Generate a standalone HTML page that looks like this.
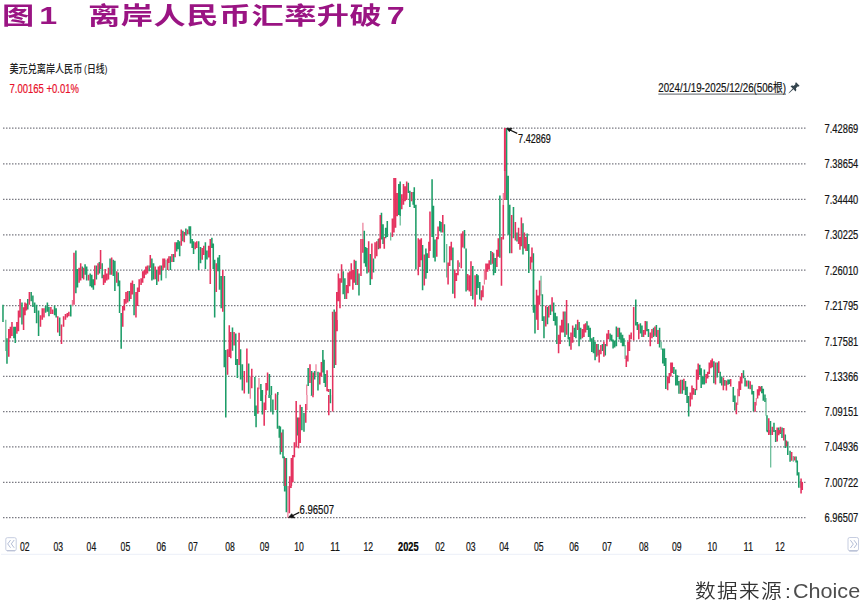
<!DOCTYPE html>
<html lang="zh-CN"><head><meta charset="utf-8"><title>图1 离岸人民币汇率升破7</title>
<style>
html,body{margin:0;padding:0;background:#fff}
body{width:865px;height:606px;position:relative;overflow:hidden;font-family:"Liberation Sans","Noto Sans CJK SC",sans-serif}
.title{position:absolute;left:2px;top:-4.4px;margin:0;font-family:"Liberation Sans","Noto Sans CJK SC",sans-serif;font-weight:bold;font-size:24.2px;line-height:40px;color:#9a1483;white-space:pre;transform-origin:0 0;transform:scaleX(1.331)}
.title .n{margin-left:3.8px}
.title .t{margin-left:23.25px;letter-spacing:0.36px}
.title .s{margin-left:3.5px}
.src{position:absolute;left:0;top:0;margin:0;font-family:"Liberation Sans","Noto Sans CJK SC",sans-serif;color:#333;white-space:pre}
.src span{position:absolute;top:577px;line-height:30px;transform-origin:0 50%;display:block}
.src .c{left:694.6px;font-size:18.8px;font-weight:350;letter-spacing:1.2px;transform:scaleX(1.1)}
.src .k{left:785px;font-size:19px;font-weight:400;transform:scaleX(1.1)}
.src .l{left:793.2px;top:576.3px;font-size:19.4px;letter-spacing:0;transform:scaleX(1.112);color:#4d4d4d}
</style></head><body>
<svg width="865" height="606" viewBox="0 0 865 606" style="position:absolute;left:0;top:0">
<g stroke="#7a7a82" stroke-width="1.3" stroke-dasharray="1.5 1.5" fill="none"><line x1="3" y1="128.2" x2="805.5" y2="128.2"/><line x1="3" y1="163.8" x2="805.5" y2="163.8"/><line x1="3" y1="199.3" x2="805.5" y2="199.3"/><line x1="3" y1="234.8" x2="805.5" y2="234.8"/><line x1="3" y1="270.2" x2="805.5" y2="270.2"/><line x1="3" y1="305.6" x2="805.5" y2="305.6"/><line x1="3" y1="341.0" x2="805.5" y2="341.0"/><line x1="3" y1="376.3" x2="805.5" y2="376.3"/><line x1="3" y1="411.6" x2="805.5" y2="411.6"/><line x1="3" y1="446.9" x2="805.5" y2="446.9"/><line x1="3" y1="482.3" x2="805.5" y2="482.3"/><line x1="3" y1="517.6" x2="805.5" y2="517.6"/></g>
<line x1="1" y1="554.3" x2="859" y2="554.3" stroke="#eff2f9" stroke-width="1.2"/>
<defs><filter id="soft" x="0" y="0" width="865" height="606" filterUnits="userSpaceOnUse"><feGaussianBlur stdDeviation="0.35"/></filter></defs>
<g filter="url(#soft)">
<path fill="#62ba93" d="M5.2 319.8h1.20v31.2h-1.20zM165.4 259.7h1.20v18.5h-1.20zM390.1 232.4h1.20v8.1h-1.20zM399.6 216.2h1.20v9.2h-1.20zM446.1 244.0h1.20v33.5h-1.20zM458.8 262.5h1.20v4.6h-1.20zM540.4 275.8h1.20v19.7h-1.20zM624.5 345.1h1.20v13.9h-1.20zM660.6 341.7h1.20v8.1h-1.20zM765.4 397.9h1.20v17.9h-1.20zM774.9 430.9h1.20v4.2h-1.20zM770.1 433.5h1.20v34.1h-1.20zM792.7 456.0h1.20v5.8h-1.20zM799.7 480.9h1.20v6.9h-1.20z"/>
<path fill="#ec7c97" d="M71.8 300.1h1.20v5.8h-1.20zM362.3 222.7h1.20v16.2h-1.20zM249.7 377.1h1.20v17.9h-1.20zM258.4 377.9h1.20v11.3h-1.20zM306.1 384.6h1.20v10.4h-1.20zM315.4 364.3h1.20v11.3h-1.20zM249.7 395.0h1.20v3.8h-1.20zM306.4 395.0h1.20v15.0h-1.20zM287.3 486.0h1.20v31.9h-1.20zM483.8 269.4h1.20v15.0h-1.20zM502.7 193.1h1.20v11.6h-1.20zM737.1 388.7h1.20v16.2h-1.20zM755.7 397.9h1.20v7.5h-1.20z"/>
<path fill="#1f9d68" d="M2.2 304.8h1.55v17.3h-1.55zM6.2 338.3h1.55v25.4h-1.55zM13.1 326.7h1.55v11.6h-1.55zM14.5 326.7h1.55v16.2h-1.55zM21.2 302.5h1.55v22.0h-1.55zM27.0 299.0h1.55v10.4h-1.55zM30.4 292.1h1.55v9.2h-1.55zM32.1 295.5h1.55v11.6h-1.55zM33.9 302.5h1.55v10.4h-1.55zM35.8 304.8h1.55v18.5h-1.55zM37.8 310.5h1.55v25.4h-1.55zM44.8 305.9h1.55v6.9h-1.55zM46.6 302.5h1.55v9.2h-1.55zM48.2 307.1h1.55v9.2h-1.55zM53.8 305.5h1.55v9.7h-1.55zM55.4 308.2h1.55v9.2h-1.55zM58.9 317.5h1.55v18.5h-1.55zM70.0 304.8h1.55v11.6h-1.55zM75.1 250.4h1.55v42.8h-1.55zM76.7 268.9h1.55v18.5h-1.55zM81.5 266.6h1.55v11.6h-1.55zM84.3 264.3h1.55v10.4h-1.55zM85.9 266.6h1.55v13.9h-1.55zM89.4 273.6h1.55v12.7h-1.55zM91.0 274.7h1.55v12.7h-1.55zM92.6 279.3h1.55v10.4h-1.55zM95.6 265.5h1.55v13.9h-1.55zM98.6 262.0h1.55v11.6h-1.55zM101.4 263.2h1.55v15.0h-1.55zM109.3 258.5h1.55v16.2h-1.55zM112.5 259.7h1.55v16.2h-1.55zM114.1 260.8h1.55v30.1h-1.55zM117.4 272.4h1.55v13.9h-1.55zM118.8 280.5h1.55v32.4h-1.55zM120.4 312.9h1.55v35.8h-1.55zM128.5 290.9h1.55v10.4h-1.55zM133.3 284.0h1.55v31.2h-1.55zM148.4 265.5h1.55v5.8h-1.55zM151.1 258.5h1.55v22.0h-1.55zM152.8 263.2h1.55v16.2h-1.55zM156.0 270.1h1.55v15.0h-1.55zM160.6 265.5h1.55v15.0h-1.55zM169.6 256.2h1.55v13.9h-1.55zM172.9 253.9h1.55v8.1h-1.55zM175.9 242.3h1.55v9.2h-1.55zM177.3 240.0h1.55v9.2h-1.55zM178.9 241.2h1.55v15.0h-1.55zM182.1 230.8h1.55v10.4h-1.55zM185.1 228.5h1.55v6.9h-1.55zM188.4 226.2h1.55v8.1h-1.55zM189.7 226.2h1.55v17.3h-1.55zM191.4 238.9h1.55v9.2h-1.55zM192.8 241.2h1.55v12.7h-1.55zM197.9 241.2h1.55v28.9h-1.55zM199.8 247.0h1.55v16.2h-1.55zM204.6 242.3h1.55v26.6h-1.55zM206.2 250.4h1.55v9.2h-1.55zM211.1 237.7h1.55v10.4h-1.55zM212.5 243.5h1.55v25.4h-1.55zM213.9 259.7h1.55v57.8h-1.55zM217.1 257.4h1.55v13.9h-1.55zM218.7 255.1h1.55v34.7h-1.55zM220.4 275.9h1.55v32.4h-1.55zM223.6 275.9h1.55v44.2h-1.55zM333.4 309.4h1.55v10.6h-1.55zM342.4 271.2h1.55v23.1h-1.55zM344.1 278.2h1.55v20.8h-1.55zM355.1 260.8h1.55v24.3h-1.55zM358.2 273.6h1.55v22.0h-1.55zM363.5 230.8h1.55v32.4h-1.55zM364.9 247.0h1.55v19.7h-1.55zM366.2 248.1h1.55v25.4h-1.55zM369.5 253.9h1.55v31.2h-1.55zM372.7 258.5h1.55v13.9h-1.55zM377.6 238.9h1.55v10.4h-1.55zM223.5 320.0h1.55v47.3h-1.55zM225.0 350.1h1.55v44.9h-1.55zM231.7 327.5h1.55v23.3h-1.55zM235.0 333.5h1.55v31.6h-1.55zM236.6 359.1h1.55v18.8h-1.55zM239.8 349.3h1.55v30.1h-1.55zM241.6 364.3h1.55v26.3h-1.55zM247.9 363.6h1.55v30.1h-1.55zM254.1 377.1h1.55v17.9h-1.55zM260.1 383.9h1.55v11.1h-1.55zM261.6 389.9h1.55v5.1h-1.55zM268.6 374.1h1.55v20.9h-1.55zM270.6 386.1h1.55v8.9h-1.55zM277.0 392.1h1.55v2.9h-1.55zM307.4 368.1h1.55v18.0h-1.55zM310.9 371.1h1.55v23.9h-1.55zM313.9 371.1h1.55v8.3h-1.55zM317.2 371.8h1.55v18.8h-1.55zM322.1 350.1h1.55v22.5h-1.55zM323.3 359.8h1.55v23.3h-1.55zM324.7 374.1h1.55v12.8h-1.55zM329.5 389.1h1.55v5.9h-1.55zM333.4 320.0h1.55v48.1h-1.55zM225.0 395.0h1.55v22.5h-1.55zM254.1 395.0h1.55v21.0h-1.55zM255.3 405.5h1.55v21.8h-1.55zM260.1 395.0h1.55v6.0h-1.55zM261.6 395.0h1.55v19.5h-1.55zM268.3 395.0h1.55v3.0h-1.55zM270.1 395.0h1.55v16.5h-1.55zM272.1 399.5h1.55v15.0h-1.55zM276.7 395.0h1.55v33.8h-1.55zM278.5 425.8h1.55v12.0h-1.55zM279.6 426.6h1.55v27.8h-1.55zM282.2 429.6h1.55v28.6h-1.55zM283.4 456.6h1.55v29.4h-1.55zM285.6 458.1h1.55v27.9h-1.55zM296.6 417.5h1.55v18.0h-1.55zM301.1 407.0h1.55v23.3h-1.55zM303.2 413.0h1.55v18.8h-1.55zM310.7 395.0h1.55v0.8h-1.55zM329.6 395.0h1.55v8.3h-1.55zM283.9 486.0h1.55v5.4h-1.55zM285.6 486.0h1.55v26.2h-1.55zM380.7 212.8h1.55v26.6h-1.55zM382.3 224.3h1.55v19.7h-1.55zM384.9 227.8h1.55v10.4h-1.55zM386.5 220.9h1.55v16.2h-1.55zM398.0 183.9h1.55v31.2h-1.55zM399.4 181.6h1.55v34.7h-1.55zM407.5 182.7h1.55v10.4h-1.55zM409.1 190.8h1.55v16.2h-1.55zM412.4 192.0h1.55v12.7h-1.55zM413.5 187.3h1.55v20.8h-1.55zM415.1 204.7h1.55v64.7h-1.55zM421.8 245.1h1.55v45.1h-1.55zM425.1 248.6h1.55v30.1h-1.55zM426.5 253.2h1.55v19.7h-1.55zM431.3 179.2h1.55v57.8h-1.55zM432.7 205.8h1.55v52.0h-1.55zM434.3 239.4h1.55v22.0h-1.55zM439.0 220.9h1.55v10.4h-1.55zM440.3 222.0h1.55v10.4h-1.55zM443.6 224.3h1.55v38.2h-1.55zM452.1 247.5h1.55v46.2h-1.55zM463.7 230.1h1.55v18.5h-1.55zM465.3 248.6h1.55v42.8h-1.55zM472.0 266.0h1.55v33.5h-1.55zM476.0 274.0h1.55v20.8h-1.55zM477.3 275.2h1.55v12.7h-1.55zM479.0 282.1h1.55v17.3h-1.55zM490.1 250.9h1.55v13.9h-1.55zM492.8 253.2h1.55v22.0h-1.55zM494.5 257.9h1.55v15.0h-1.55zM499.1 195.4h1.55v62.4h-1.55zM505.8 128.4h1.55v71.7h-1.55zM507.4 175.8h1.55v59.0h-1.55zM509.0 204.7h1.55v48.6h-1.55zM512.7 207.0h1.55v31.2h-1.55zM516.2 232.4h1.55v9.2h-1.55zM522.2 223.2h1.55v31.2h-1.55zM526.4 233.6h1.55v17.3h-1.55zM528.0 244.0h1.55v28.9h-1.55zM532.6 253.2h1.55v56.9h-1.55zM532.8 270.0h1.55v42.8h-1.55zM534.2 304.7h1.55v28.9h-1.55zM541.6 294.3h1.55v26.6h-1.55zM543.2 316.2h1.55v22.0h-1.55zM546.7 307.0h1.55v17.3h-1.55zM549.7 304.7h1.55v10.4h-1.55zM552.9 302.4h1.55v18.5h-1.55zM554.5 312.8h1.55v12.7h-1.55zM556.1 316.2h1.55v27.7h-1.55zM564.2 311.6h1.55v25.4h-1.55zM567.5 323.2h1.55v16.2h-1.55zM568.8 337.1h1.55v9.2h-1.55zM573.5 327.8h1.55v9.2h-1.55zM575.1 324.3h1.55v13.9h-1.55zM578.3 322.0h1.55v24.3h-1.55zM579.9 327.8h1.55v11.6h-1.55zM586.2 321.3h1.55v8.8h-1.55zM587.8 325.5h1.55v11.6h-1.55zM589.4 327.8h1.55v13.9h-1.55zM591.0 338.2h1.55v13.9h-1.55zM592.7 337.1h1.55v16.2h-1.55zM594.3 341.7h1.55v18.5h-1.55zM597.3 344.0h1.55v11.6h-1.55zM601.7 344.0h1.55v6.9h-1.55zM604.5 344.0h1.55v11.6h-1.55zM609.3 333.6h1.55v6.9h-1.55zM610.9 334.7h1.55v6.9h-1.55zM612.3 339.4h1.55v9.2h-1.55zM613.9 340.5h1.55v6.9h-1.55zM615.6 326.6h1.55v19.7h-1.55zM618.6 327.8h1.55v11.6h-1.55zM620.2 332.4h1.55v10.4h-1.55zM621.8 334.7h1.55v11.6h-1.55zM623.2 338.2h1.55v8.1h-1.55zM635.0 299.4h1.55v26.1h-1.55zM636.6 322.0h1.55v8.1h-1.55zM639.6 323.2h1.55v10.4h-1.55zM641.2 325.5h1.55v11.6h-1.55zM646.1 321.3h1.55v9.9h-1.55zM647.7 329.0h1.55v8.1h-1.55zM652.8 327.8h1.55v9.2h-1.55zM655.6 325.0h1.55v12.0h-1.55zM658.8 327.8h1.55v19.7h-1.55zM662.0 348.6h1.55v15.0h-1.55zM663.6 348.6h1.55v17.3h-1.55zM665.0 357.9h1.55v31.2h-1.55zM673.1 367.1h1.55v6.9h-1.55zM675.0 369.4h1.55v16.2h-1.55zM676.6 375.2h1.55v10.4h-1.55zM678.2 381.0h1.55v12.7h-1.55zM681.5 379.8h1.55v13.9h-1.55zM684.7 381.0h1.55v13.9h-1.55zM686.3 386.8h1.55v16.2h-1.55zM687.9 396.0h1.55v20.6h-1.55zM694.4 389.1h1.55v5.8h-1.55zM699.0 364.8h1.55v10.4h-1.55zM700.4 368.3h1.55v19.7h-1.55zM702.0 376.4h1.55v8.1h-1.55zM703.6 369.4h1.55v15.0h-1.55zM713.1 361.3h1.55v22.0h-1.55zM716.4 362.5h1.55v15.0h-1.55zM719.4 371.7h1.55v11.6h-1.55zM721.0 376.4h1.55v9.2h-1.55zM724.1 380.0h1.55v5.8h-1.55zM727.2 379.5h1.55v5.2h-1.55zM728.6 379.5h1.55v4.6h-1.55zM732.5 387.0h1.55v15.0h-1.55zM734.1 395.6h1.55v15.0h-1.55zM742.7 370.2h1.55v8.1h-1.55zM744.3 377.7h1.55v8.7h-1.55zM747.8 380.6h1.55v8.1h-1.55zM751.2 384.7h1.55v9.8h-1.55zM752.7 391.0h1.55v20.2h-1.55zM761.0 386.0h1.55v7.3h-1.55zM762.5 388.7h1.55v12.1h-1.55zM764.2 394.5h1.55v7.5h-1.55zM766.2 415.3h1.55v16.2h-1.55zM769.7 421.1h1.55v14.0h-1.55zM773.2 422.8h1.55v9.2h-1.55zM778.0 427.4h1.55v5.8h-1.55zM781.3 427.4h1.55v4.0h-1.55zM766.8 430.0h1.55v2.3h-1.55zM769.9 430.0h1.55v3.5h-1.55zM773.1 430.0h1.55v1.7h-1.55zM774.9 430.0h1.55v12.1h-1.55zM779.5 430.0h1.55v4.0h-1.55zM781.2 430.0h1.55v8.1h-1.55zM784.5 434.6h1.55v13.3h-1.55zM787.0 441.6h1.55v13.3h-1.55zM789.3 450.8h1.55v11.0h-1.55zM795.3 456.6h1.55v5.8h-1.55zM796.5 460.6h1.55v15.0h-1.55zM798.0 472.2h1.55v15.6h-1.55zM505.9 128.4h1.2v43h-1.2z"/>
<path fill="#e5315e" d="M8.0 329.0h1.55v27.7h-1.55zM9.6 326.7h1.55v11.6h-1.55zM11.2 322.1h1.55v13.9h-1.55zM16.1 322.1h1.55v11.6h-1.55zM17.7 310.5h1.55v20.8h-1.55zM19.3 299.0h1.55v18.5h-1.55zM22.8 307.3h1.55v22.7h-1.55zM24.2 302.5h1.55v12.7h-1.55zM25.6 303.6h1.55v6.9h-1.55zM28.6 292.1h1.55v12.7h-1.55zM39.7 315.2h1.55v11.6h-1.55zM41.5 308.2h1.55v11.6h-1.55zM43.2 308.2h1.55v9.2h-1.55zM50.1 307.1h1.55v6.9h-1.55zM51.9 309.4h1.55v4.6h-1.55zM57.0 316.3h1.55v16.2h-1.55zM60.7 324.4h1.55v19.7h-1.55zM62.8 316.3h1.55v10.4h-1.55zM64.7 314.0h1.55v5.8h-1.55zM66.5 312.9h1.55v4.6h-1.55zM68.1 311.7h1.55v4.6h-1.55zM73.2 252.7h1.55v52.0h-1.55zM78.3 267.8h1.55v15.0h-1.55zM79.9 263.2h1.55v17.3h-1.55zM82.9 267.8h1.55v11.6h-1.55zM87.8 274.7h1.55v5.8h-1.55zM94.0 265.5h1.55v19.7h-1.55zM97.3 263.2h1.55v11.6h-1.55zM99.8 250.0h1.55v19.0h-1.55zM102.8 274.7h1.55v10.4h-1.55zM104.4 268.9h1.55v13.9h-1.55zM106.0 273.6h1.55v6.9h-1.55zM107.7 267.8h1.55v11.6h-1.55zM110.9 257.4h1.55v17.3h-1.55zM116.0 271.2h1.55v11.6h-1.55zM122.0 305.9h1.55v20.8h-1.55zM123.6 299.0h1.55v11.6h-1.55zM125.2 292.1h1.55v11.6h-1.55zM126.9 290.9h1.55v11.6h-1.55zM130.1 282.8h1.55v16.2h-1.55zM131.7 280.5h1.55v13.9h-1.55zM135.2 292.1h1.55v25.4h-1.55zM136.8 287.4h1.55v18.5h-1.55zM138.4 279.3h1.55v12.7h-1.55zM140.3 278.2h1.55v6.9h-1.55zM141.9 271.2h1.55v11.6h-1.55zM143.5 270.1h1.55v8.1h-1.55zM145.1 266.6h1.55v8.1h-1.55zM146.7 265.5h1.55v8.1h-1.55zM149.5 255.1h1.55v12.7h-1.55zM154.4 266.6h1.55v12.7h-1.55zM157.6 266.6h1.55v15.0h-1.55zM159.2 265.5h1.55v9.2h-1.55zM162.2 258.5h1.55v11.6h-1.55zM163.8 258.5h1.55v9.2h-1.55zM166.9 258.5h1.55v11.6h-1.55zM168.2 256.2h1.55v6.9h-1.55zM171.2 253.9h1.55v8.1h-1.55zM174.3 242.3h1.55v15.0h-1.55zM180.5 229.6h1.55v16.2h-1.55zM183.5 231.9h1.55v10.4h-1.55zM186.7 229.6h1.55v4.6h-1.55zM194.4 242.3h1.55v6.9h-1.55zM196.0 241.2h1.55v6.9h-1.55zM201.4 248.1h1.55v11.6h-1.55zM203.0 245.8h1.55v9.2h-1.55zM207.9 245.8h1.55v11.6h-1.55zM209.5 238.9h1.55v45.1h-1.55zM215.5 263.2h1.55v28.9h-1.55zM222.0 270.1h1.55v41.6h-1.55zM331.8 311.7h1.55v8.3h-1.55zM334.8 311.7h1.55v8.3h-1.55zM336.0 292.1h1.55v28.0h-1.55zM337.6 273.6h1.55v27.7h-1.55zM339.2 278.2h1.55v30.1h-1.55zM340.8 264.3h1.55v18.5h-1.55zM345.7 285.1h1.55v13.9h-1.55zM347.3 272.4h1.55v20.8h-1.55zM348.9 271.2h1.55v15.0h-1.55zM350.5 263.2h1.55v16.2h-1.55zM352.1 270.1h1.55v19.7h-1.55zM353.5 259.7h1.55v23.1h-1.55zM356.8 268.9h1.55v16.2h-1.55zM360.2 238.9h1.55v37.0h-1.55zM362.1 238.9h1.55v13.9h-1.55zM367.9 241.2h1.55v31.2h-1.55zM371.1 243.5h1.55v35.8h-1.55zM374.3 242.3h1.55v16.2h-1.55zM376.0 241.2h1.55v15.0h-1.55zM226.8 349.3h1.55v25.5h-1.55zM228.5 325.3h1.55v31.6h-1.55zM230.0 332.0h1.55v26.3h-1.55zM233.3 332.0h1.55v13.5h-1.55zM238.3 332.8h1.55v32.3h-1.55zM243.5 371.1h1.55v22.5h-1.55zM246.1 348.6h1.55v33.8h-1.55zM251.0 368.8h1.55v19.5h-1.55zM257.1 387.6h1.55v7.4h-1.55zM265.3 383.1h1.55v11.9h-1.55zM266.8 372.6h1.55v18.0h-1.55zM274.8 393.6h1.55v1.4h-1.55zM309.2 364.3h1.55v18.8h-1.55zM312.4 372.6h1.55v22.4h-1.55zM319.0 372.6h1.55v12.0h-1.55zM320.6 362.1h1.55v14.3h-1.55zM326.3 370.3h1.55v21.0h-1.55zM327.8 389.1h1.55v3.0h-1.55zM331.9 320.0h1.55v75.0h-1.55zM334.9 320.0h1.55v45.1h-1.55zM336.3 320.0h1.55v11.3h-1.55zM257.1 395.0h1.55v18.8h-1.55zM263.4 402.5h1.55v23.3h-1.55zM264.9 395.0h1.55v15.0h-1.55zM274.8 395.0h1.55v15.0h-1.55zM280.8 432.6h1.55v19.5h-1.55zM284.4 458.1h1.55v27.9h-1.55zM288.9 476.2h1.55v9.8h-1.55zM290.6 458.1h1.55v27.9h-1.55zM292.1 455.1h1.55v27.1h-1.55zM293.6 442.3h1.55v15.0h-1.55zM295.4 401.0h1.55v46.6h-1.55zM297.8 417.5h1.55v30.8h-1.55zM299.4 404.8h1.55v38.3h-1.55zM305.0 404.0h1.55v18.8h-1.55zM312.2 395.0h1.55v2.3h-1.55zM328.0 395.0h1.55v20.3h-1.55zM331.9 395.0h1.55v16.5h-1.55zM288.6 486.0h1.55v27.3h-1.55zM290.2 486.0h1.55v1.9h-1.55zM378.4 238.2h1.55v10.4h-1.55zM379.5 215.1h1.55v33.5h-1.55zM383.5 237.1h1.55v11.6h-1.55zM391.6 218.6h1.55v18.5h-1.55zM393.2 178.1h1.55v54.3h-1.55zM394.8 178.1h1.55v49.7h-1.55zM396.4 193.1h1.55v23.1h-1.55zM401.0 194.3h1.55v15.0h-1.55zM402.7 183.9h1.55v20.8h-1.55zM404.3 186.2h1.55v15.0h-1.55zM405.9 181.6h1.55v18.5h-1.55zM410.8 192.0h1.55v9.2h-1.55zM417.5 238.2h1.55v37.0h-1.55zM419.1 239.4h1.55v27.7h-1.55zM420.5 238.2h1.55v22.0h-1.55zM423.5 254.4h1.55v31.2h-1.55zM428.1 241.7h1.55v16.2h-1.55zM429.2 211.6h1.55v39.3h-1.55zM436.0 237.1h1.55v19.7h-1.55zM437.3 226.6h1.55v12.7h-1.55zM442.0 215.1h1.55v17.3h-1.55zM447.3 262.5h1.55v22.0h-1.55zM448.9 246.3h1.55v19.7h-1.55zM450.5 241.7h1.55v18.5h-1.55zM454.0 269.4h1.55v28.9h-1.55zM455.6 272.9h1.55v8.1h-1.55zM457.2 260.2h1.55v15.0h-1.55zM460.5 233.6h1.55v34.7h-1.55zM462.1 231.3h1.55v16.2h-1.55zM466.9 274.0h1.55v16.2h-1.55zM468.6 275.2h1.55v16.2h-1.55zM470.2 261.3h1.55v34.7h-1.55zM474.3 275.2h1.55v31.2h-1.55zM480.6 290.2h1.55v10.4h-1.55zM482.2 285.6h1.55v11.6h-1.55zM485.2 263.6h1.55v16.2h-1.55zM486.8 263.6h1.55v8.1h-1.55zM488.4 260.2h1.55v9.2h-1.55zM491.7 252.1h1.55v11.6h-1.55zM496.1 249.8h1.55v17.3h-1.55zM497.5 238.2h1.55v18.5h-1.55zM500.7 237.1h1.55v48.6h-1.55zM502.5 204.7h1.55v34.7h-1.55zM504.2 128.4h1.55v71.7h-1.55zM510.9 215.1h1.55v38.2h-1.55zM514.6 222.0h1.55v18.5h-1.55zM517.8 227.8h1.55v16.2h-1.55zM519.2 237.1h1.55v12.7h-1.55zM520.6 217.4h1.55v28.9h-1.55zM523.6 232.4h1.55v16.2h-1.55zM525.2 237.1h1.55v13.9h-1.55zM529.8 256.7h1.55v12.7h-1.55zM531.2 247.5h1.55v15.0h-1.55zM535.8 289.7h1.55v30.1h-1.55zM537.2 295.4h1.55v34.7h-1.55zM538.8 280.4h1.55v24.3h-1.55zM545.0 305.8h1.55v20.8h-1.55zM548.0 305.8h1.55v11.6h-1.55zM551.3 297.3h1.55v14.3h-1.55zM557.8 334.7h1.55v18.5h-1.55zM559.4 325.5h1.55v18.5h-1.55zM561.0 319.7h1.55v12.7h-1.55zM562.6 311.6h1.55v20.8h-1.55zM565.8 300.1h1.55v34.7h-1.55zM570.2 332.4h1.55v17.3h-1.55zM571.9 325.5h1.55v17.3h-1.55zM576.9 319.7h1.55v10.4h-1.55zM581.6 329.0h1.55v9.2h-1.55zM583.2 324.3h1.55v12.7h-1.55zM584.8 323.2h1.55v9.2h-1.55zM595.9 344.0h1.55v12.7h-1.55zM598.4 349.8h1.55v12.7h-1.55zM600.1 345.1h1.55v9.2h-1.55zM603.1 341.7h1.55v15.0h-1.55zM606.1 333.6h1.55v12.7h-1.55zM607.7 330.1h1.55v9.2h-1.55zM617.2 327.8h1.55v9.2h-1.55zM625.5 355.5h1.55v11.6h-1.55zM627.1 341.7h1.55v19.7h-1.55zM628.7 334.7h1.55v16.2h-1.55zM630.4 332.4h1.55v6.9h-1.55zM632.9 307.0h1.55v33.5h-1.55zM638.0 324.3h1.55v15.0h-1.55zM642.8 330.1h1.55v6.9h-1.55zM644.5 320.9h1.55v13.9h-1.55zM649.5 332.4h1.55v13.9h-1.55zM651.2 329.0h1.55v9.2h-1.55zM654.2 326.6h1.55v9.2h-1.55zM657.2 330.1h1.55v13.9h-1.55zM666.9 376.4h1.55v13.9h-1.55zM668.5 372.9h1.55v10.4h-1.55zM670.1 362.5h1.55v13.9h-1.55zM671.5 362.5h1.55v10.4h-1.55zM679.8 379.8h1.55v13.9h-1.55zM683.1 378.7h1.55v11.6h-1.55zM689.5 392.5h1.55v13.9h-1.55zM691.2 385.6h1.55v13.9h-1.55zM692.8 387.9h1.55v6.9h-1.55zM695.8 369.4h1.55v20.8h-1.55zM697.4 363.6h1.55v16.2h-1.55zM705.3 374.0h1.55v9.2h-1.55zM706.9 371.7h1.55v6.9h-1.55zM708.5 362.5h1.55v11.6h-1.55zM710.1 360.2h1.55v8.1h-1.55zM711.5 358.6h1.55v8.6h-1.55zM714.7 362.5h1.55v22.0h-1.55zM718.0 361.3h1.55v11.6h-1.55zM722.6 377.5h1.55v12.7h-1.55zM725.6 380.6h1.55v9.8h-1.55zM729.9 378.9h1.55v7.5h-1.55zM735.6 402.6h1.55v11.6h-1.55zM738.3 381.2h1.55v15.0h-1.55zM739.7 376.6h1.55v13.3h-1.55zM741.0 373.1h1.55v10.4h-1.55zM746.0 380.6h1.55v5.8h-1.55zM749.4 381.2h1.55v8.1h-1.55zM754.3 402.0h1.55v9.8h-1.55zM756.8 389.3h1.55v9.2h-1.55zM758.3 386.0h1.55v9.6h-1.55zM759.7 386.4h1.55v5.2h-1.55zM768.0 418.2h1.55v16.9h-1.55zM771.5 426.8h1.55v8.2h-1.55zM776.4 427.4h1.55v7.6h-1.55zM779.7 426.8h1.55v6.4h-1.55zM783.0 428.0h1.55v7.1h-1.55zM768.3 430.0h1.55v3.5h-1.55zM771.6 430.0h1.55v3.5h-1.55zM776.4 430.0h1.55v11.6h-1.55zM778.0 430.0h1.55v5.2h-1.55zM783.0 430.0h1.55v10.4h-1.55zM785.6 440.4h1.55v5.8h-1.55zM790.9 452.0h1.55v8.7h-1.55zM793.9 456.6h1.55v4.0h-1.55zM800.3 478.6h1.55v15.0h-1.55zM801.5 482.0h1.55v8.1h-1.55zM503.9 128.1h2v43h-2z"/>
</g>
<g font-family="'Liberation Sans',sans-serif" font-size="12.5" fill="#151515" stroke="#151515" stroke-width="0.22"><text x="824.6" y="132.7" textLength="33.7" lengthAdjust="spacingAndGlyphs">7.42869</text><text x="824.6" y="168.3" textLength="33.7" lengthAdjust="spacingAndGlyphs">7.38654</text><text x="824.6" y="203.8" textLength="33.7" lengthAdjust="spacingAndGlyphs">7.34440</text><text x="824.6" y="239.3" textLength="33.7" lengthAdjust="spacingAndGlyphs">7.30225</text><text x="824.6" y="274.7" textLength="33.7" lengthAdjust="spacingAndGlyphs">7.26010</text><text x="824.6" y="310.1" textLength="33.7" lengthAdjust="spacingAndGlyphs">7.21795</text><text x="824.6" y="345.5" textLength="33.7" lengthAdjust="spacingAndGlyphs">7.17581</text><text x="824.6" y="380.8" textLength="33.7" lengthAdjust="spacingAndGlyphs">7.13366</text><text x="824.6" y="416.1" textLength="33.7" lengthAdjust="spacingAndGlyphs">7.09151</text><text x="824.6" y="451.4" textLength="33.7" lengthAdjust="spacingAndGlyphs">7.04936</text><text x="824.6" y="486.8" textLength="33.7" lengthAdjust="spacingAndGlyphs">7.00722</text><text x="824.6" y="522.1" textLength="33.7" lengthAdjust="spacingAndGlyphs">6.96507</text></g>
<g font-family="'Liberation Sans',sans-serif" font-size="12.5" fill="#151515" stroke="#151515" stroke-width="0.22"><text x="20.0" y="551.3" textLength="9.6" lengthAdjust="spacingAndGlyphs">02</text><text x="53.5" y="551.3" textLength="9.6" lengthAdjust="spacingAndGlyphs">03</text><text x="86.6" y="551.3" textLength="9.6" lengthAdjust="spacingAndGlyphs">04</text><text x="120.6" y="551.3" textLength="9.6" lengthAdjust="spacingAndGlyphs">05</text><text x="156.5" y="551.3" textLength="9.6" lengthAdjust="spacingAndGlyphs">06</text><text x="188.3" y="551.3" textLength="9.6" lengthAdjust="spacingAndGlyphs">07</text><text x="225.2" y="551.3" textLength="9.6" lengthAdjust="spacingAndGlyphs">08</text><text x="259.7" y="551.3" textLength="9.6" lengthAdjust="spacingAndGlyphs">09</text><text x="294.3" y="551.3" textLength="9.6" lengthAdjust="spacingAndGlyphs">10</text><text x="330.2" y="551.3" textLength="9.6" lengthAdjust="spacingAndGlyphs">11</text><text x="363.4" y="551.3" textLength="9.6" lengthAdjust="spacingAndGlyphs">12</text><text x="398.1" y="551.3" textLength="20.5" lengthAdjust="spacingAndGlyphs" font-weight="bold" fill="#000">2025</text><text x="435.2" y="551.3" textLength="9.6" lengthAdjust="spacingAndGlyphs">02</text><text x="465.9" y="551.3" textLength="9.6" lengthAdjust="spacingAndGlyphs">03</text><text x="499.2" y="551.3" textLength="9.6" lengthAdjust="spacingAndGlyphs">04</text><text x="534.0" y="551.3" textLength="9.6" lengthAdjust="spacingAndGlyphs">05</text><text x="569.2" y="551.3" textLength="9.6" lengthAdjust="spacingAndGlyphs">06</text><text x="602.2" y="551.3" textLength="9.6" lengthAdjust="spacingAndGlyphs">07</text><text x="639.0" y="551.3" textLength="9.6" lengthAdjust="spacingAndGlyphs">08</text><text x="671.9" y="551.3" textLength="9.6" lengthAdjust="spacingAndGlyphs">09</text><text x="707.4" y="551.3" textLength="9.6" lengthAdjust="spacingAndGlyphs">10</text><text x="743.5" y="551.3" textLength="9.6" lengthAdjust="spacingAndGlyphs">11</text><text x="775.3" y="551.3" textLength="9.6" lengthAdjust="spacingAndGlyphs">12</text></g>
<g fill="#fff" stroke="#c6cde0" stroke-width="1"><rect x="5.8" y="537.7" width="10.4" height="13" rx="1.5"/><rect x="848" y="537.5" width="10.5" height="13.3" rx="1.8"/></g>
<g stroke="#b4bcd2" stroke-width="1.1" fill="none"><path d="M7 550.8h8M849.2 550.9h8.1"/></g>
<g fill="none" stroke="#b3bdd6" stroke-width="1"><path d="M10.6 540l-2.9 3.9 2.9 3.9M14.2 540l-2.9 3.9 2.9 3.9"/><path d="M850.4 540.2l2.9 3.9-2.9 3.9M854 540.2l2.9 3.9-2.9 3.9"/></g>
<text y="72.8" font-family="'Liberation Sans','Noto Sans CJK SC',sans-serif" font-size="11.2" font-weight="500" fill="#222"><tspan x="9.5" textLength="72.8" lengthAdjust="spacingAndGlyphs">美元兑离岸人民币</tspan><tspan x="84" textLength="23.5" lengthAdjust="spacingAndGlyphs">(日线)</tspan></text>
<text x="9.6" y="92.6" font-family="'Liberation Sans',sans-serif" font-size="12.5" fill="#e8102a" stroke="#e8102a" stroke-width="0.2" textLength="69.3" lengthAdjust="spacingAndGlyphs">7.00165 +0.01%</text>
<text x="658.3" y="92.4" font-family="'Liberation Sans','Noto Sans CJK SC',sans-serif" font-size="12.5" fill="#151515" stroke="#151515" stroke-width="0.2" textLength="127.7" lengthAdjust="spacingAndGlyphs">2024/1/19-2025/12/26(506根)</text>
<line x1="658.3" y1="94.1" x2="786" y2="94.1" stroke="#4a4f55" stroke-width="0.9"/>
<g transform="translate(793.7 88.2) rotate(45) scale(0.92)" fill="#34444d" stroke="none"><path d="M-2.7 -6.3h5.4v1.5h-.9v3.2c1.4 .5 2.1 1.4 2.1 2.6h-7.8c0 -1.2 .7 -2.1 2.1 -2.6v-3.2h-.9z"/><path d="M-.55 1h1.1l-.2 5.6l-.35 1.4l-.35-1.4z"/></g>
<g font-family="'Liberation Sans',sans-serif" font-size="12.5" fill="#111" stroke="#111" stroke-width="0.22"><text x="518.1" y="142.5" textLength="32.8" lengthAdjust="spacingAndGlyphs">7.42869</text><text x="299.6" y="513.6" textLength="34.4" lengthAdjust="spacingAndGlyphs">6.96507</text></g>
<g stroke="#111" stroke-width="1.2" fill="#111" stroke-linejoin="round"><path d="M517.2 133.4L509.5 129.7" fill="none"/><path d="M506.5 128.2L512.2 128.3L509.3 131.7z" stroke-width="0.6"/><path d="M299.3 512.4L292.5 515.8" fill="none"/><path d="M288.4 517.6L291.7 513.7L294.8 517.9z" stroke-width="0.6"/></g>
</svg>
<h1 class="title">图<span class="n">1</span><span class="t">离岸人民币汇率升破</span><span class="s">7</span></h1>
<p class="src"><span class="c">数据来源</span><span class="k">:</span><span class="l">Choice</span></p>
</body></html>
